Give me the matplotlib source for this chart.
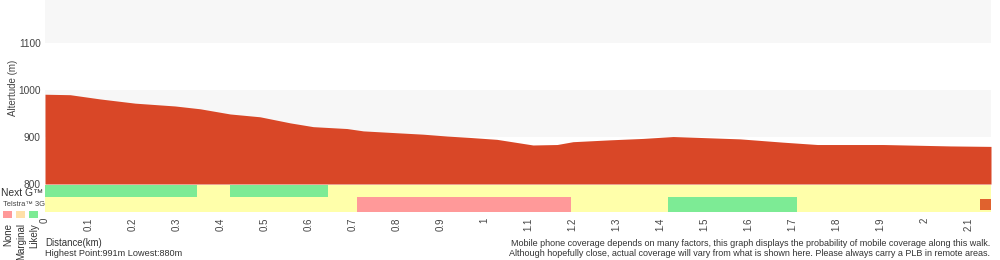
import matplotlib
matplotlib.use("Agg")
import matplotlib.pyplot as plt
from matplotlib.patches import Rectangle

plt.rcParams['font.family'] = ['Liberation Sans', 'DejaVu Sans']

# Elevation profile (km, m)
distance_km = [0.0, 0.057, 0.125, 0.205, 0.296, 0.353, 0.421, 0.489, 0.558, 0.610,
               0.687, 0.724, 0.801, 0.860, 0.915, 0.967, 1.028, 1.110, 1.165, 1.201,
               1.286, 1.361, 1.429, 1.581, 1.679, 1.757, 1.907, 2.059, 2.152]
altitude_m = [991, 990, 981, 972, 966, 960, 949, 943, 930, 922,
              918, 913, 909, 906, 902, 899, 895, 883, 884, 890,
              894, 897, 901, 896, 889, 884, 884, 881, 880]

# Coverage segments (start km, end km, level)
nextg_segments = [(0.0, 0.346, 'Likely'), (0.346, 0.421, 'Marginal'),
                  (0.421, 0.644, 'Likely'), (0.644, 2.152, 'Marginal')]
g3_segments = [(0.0, 0.71, 'Marginal'), (0.71, 1.197, 'None'),
               (1.197, 1.417, 'Marginal'), (1.417, 1.711, 'Likely'),
               (1.711, 2.152, 'Marginal')]
end_marker_km = (2.127, 2.152)

x_ticks = [0, 0.1, 0.2, 0.3, 0.4, 0.5, 0.6, 0.7, 0.8, 0.9, 1.0,
           1.1, 1.2, 1.3, 1.4, 1.5, 1.6, 1.7, 1.8, 1.9, 2.0, 2.1]
x_tick_labels = ['0', '0.1', '0.2', '0.3', '0.4', '0.5', '0.6', '0.7', '0.8', '0.9', '1',
                 '1.1', '1.2', '1.3', '1.4', '1.5', '1.6', '1.7', '1.8', '1.9', '2', '2.1']
y_ticks = [800, 900, 1000, 1100]

colors = {'None': '#ff9999', 'Marginal': '#ffffaa', 'Likely': '#7deb95'}
legend_colors = ['#ff9999', '#ffe0a8', '#7deb95']
legend_labels = ['None', 'Marginal', 'Likely']

W, H = 1000, 260
fig = plt.figure(figsize=(10, 2.6), dpi=100)

x0, x1 = 45, 991
xmax = 2.152
# main elevation axes
ax = fig.add_axes([x0 / W, (H - 184) / H, (x1 - x0) / W, 184 / H])
ymax = 800 + 184 / 47 * 100
ax.set_xlim(0, xmax)
ax.set_ylim(800, ymax)
for lo, hi in [(900, 1000), (1100, 1300)]:
    ax.axhspan(lo, hi, color='#f7f7f7', lw=0, zorder=0)
ax.fill_between(distance_km, 800, altitude_m, color='#d94727', lw=0, zorder=2)
for s in ax.spines.values():
    s.set_visible(False)
ax.set_xticks([])
ax.set_yticks(y_ticks)
ax.set_yticklabels([str(v) for v in y_ticks], fontsize=7.3, color='#444444')
ax.tick_params(axis='y', length=0, pad=3)
ax.set_ylabel('Altertude (m)', fontsize=7.0, color='#444444')
ax.yaxis.set_label_coords(-27 / (x1 - x0), 0.52)

# coverage axes
cax = fig.add_axes([x0 / W, (H - 212) / H, (x1 - x0) / W, 27 / H])
cax.set_xlim(0, xmax)
cax.set_ylim(0, 27)
for a, b, lvl in nextg_segments:
    cax.add_patch(Rectangle((a, 15), b - a, 12, color=colors[lvl], lw=0))
for a, b, lvl in g3_segments:
    cax.add_patch(Rectangle((a, 0), b - a, 15, color=colors[lvl], lw=0))
cax.add_patch(Rectangle((end_marker_km[0], 2), end_marker_km[1] - end_marker_km[0], 11,
                        color='#e0622e', lw=0))
for s in cax.spines.values():
    s.set_visible(False)
cax.set_yticks([])
cax.set_xticks(x_ticks)
cax.set_xticklabels(x_tick_labels, rotation=90, fontsize=7.0, color='#444444')
cax.tick_params(axis='x', length=0, pad=4)

# legend
fig.text(1 / W, 1 - 193 / H, 'Next G™', fontsize=7.4, color='#333333', va='center', ha='left')
fig.text(3 / W, 1 - 204 / H, 'Telstra™ 3G', fontsize=5.4, color='#444444', va='center', ha='left')
for i, (c, lab) in enumerate(zip(legend_colors, legend_labels)):
    lx = 3 + i * 13
    fig.patches.append(Rectangle((lx / W, 1 - 218 / H), 9 / W, 7 / H, color=c, lw=0,
                                 transform=fig.transFigure, figure=fig))
    fig.text((lx + 5) / W, 1 - 223 / H, lab, fontsize=7.0, color='#333333', rotation=90,
             ha='center', va='top')

# bottom text
fig.text(45 / W, 1 - 243 / H, 'Distance(km)', fontsize=6.9, color='#333333', va='center')
fig.text(45 / W, 1 - 253 / H, 'Highest Point:991m Lowest:880m', fontsize=6.6,
         color='#333333', va='center')
fig.text(990 / W, 1 - 243 / H,
         'Mobile phone coverage depends on many factors, this graph displays the probability of mobile coverage along this walk.',
         fontsize=6.5, color='#333333', va='center', ha='right')
fig.text(990 / W, 1 - 253 / H,
         'Although hopefully close, actual coverage will vary from what is shown here. Please always carry a PLB in remote areas.',
         fontsize=6.5, color='#333333', va='center', ha='right')

fig.savefig('out.png', dpi=100)
